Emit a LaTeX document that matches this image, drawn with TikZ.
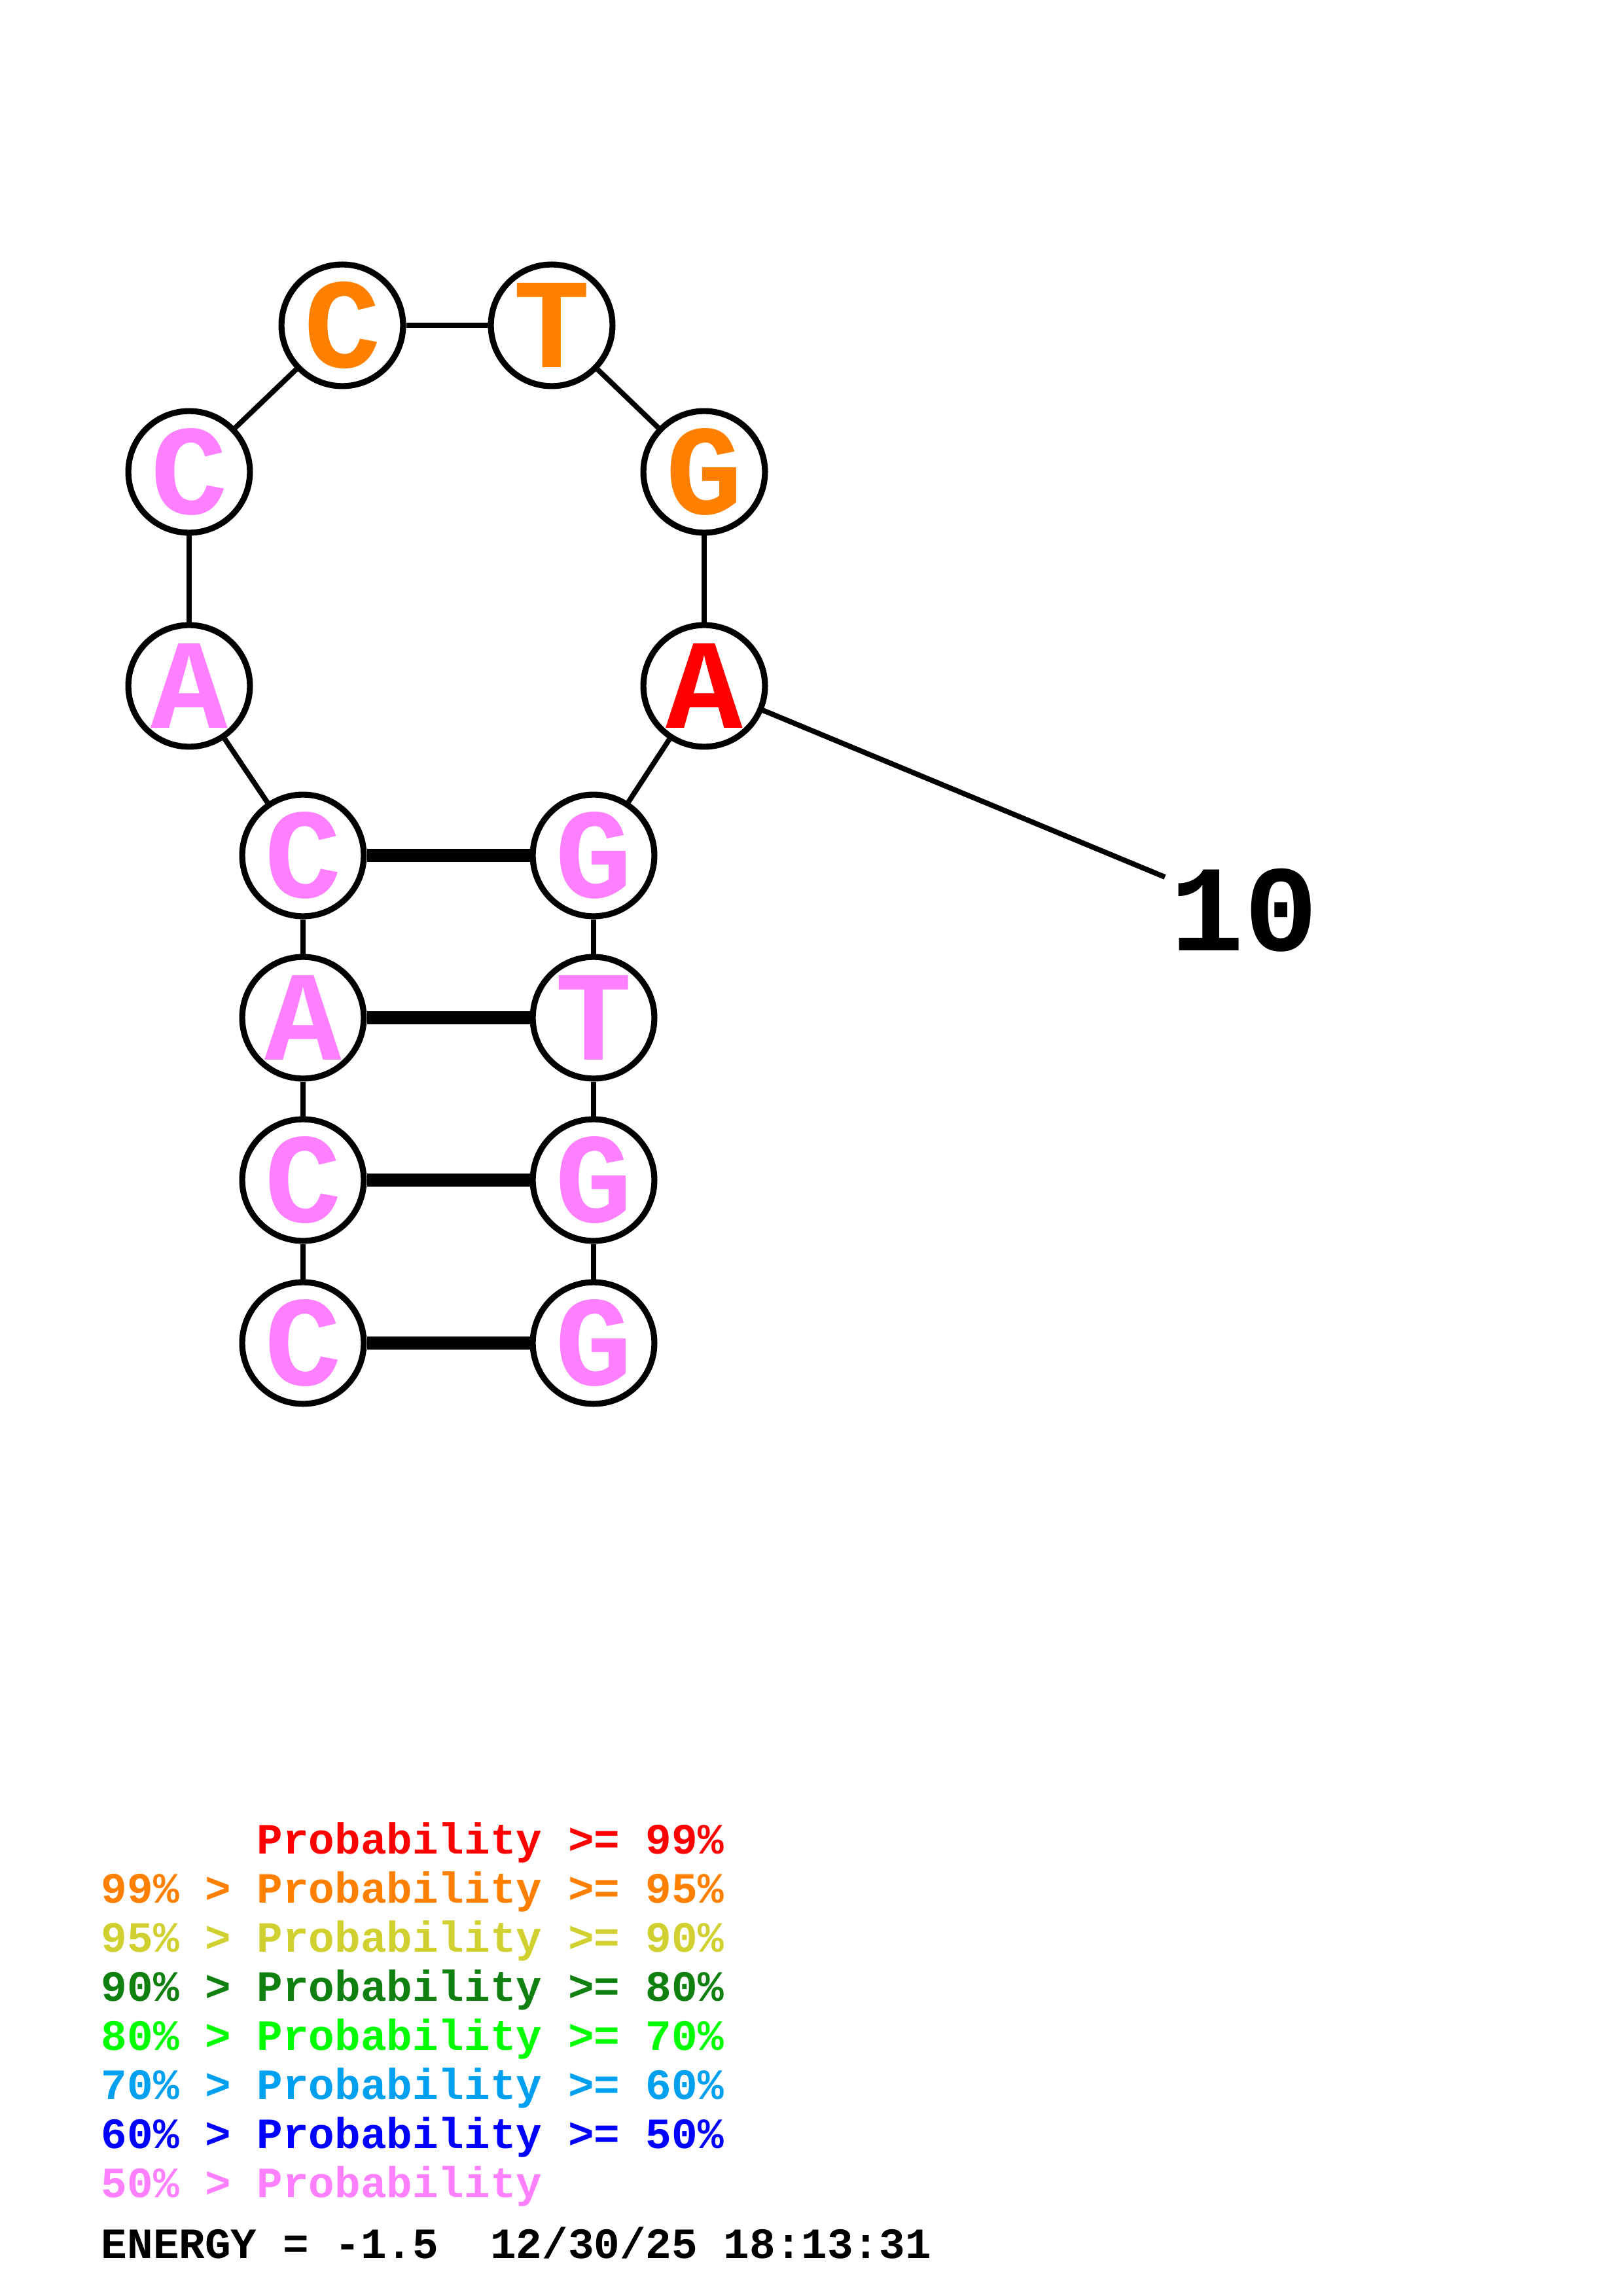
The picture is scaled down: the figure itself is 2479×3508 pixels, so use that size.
\documentclass[tikz,border=0pt]{standalone}
\usepackage{fontspec}
\setmonofont{Liberation Mono}
\definecolor{cpink}{RGB}{255,128,255}
\definecolor{corange}{RGB}{255,128,0}
\definecolor{cred}{RGB}{255,0,0}
\definecolor{cyellow}{RGB}{208,208,48}
\definecolor{cdgreen}{RGB}{16,128,16}
\definecolor{cgreen}{RGB}{0,255,0}
\definecolor{csky}{RGB}{0,160,240}
\definecolor{cblue}{RGB}{0,0,255}
\newcommand\nlow[1]{\raisebox{-2pt}{#1}}
\begin{document}
\begin{tikzpicture}[x=0.24pt,y=-0.24pt,
  nuc/.style={circle,draw=black,fill=white,line width=2.2pt,minimum size=44.6pt,inner sep=0pt,
     font=\ttfamily\bfseries\fontsize{47}{47}\selectfont},
  bb/.style={line width=1.9pt},
  bp/.style={line width=4.8pt},
  leg/.style={anchor=base west,inner sep=0pt,font=\ttfamily\bfseries\fontsize{15.85}{15.85}\selectfont}]
\useasboundingbox (0,0) rectangle (2479,3508);
% nucleotides
\node[nuc,text=cpink] (n1) at (463,2052) {\nlow{C}};
\node[nuc,text=cpink] (n2) at (463,1803) {\nlow{C}};
\node[nuc,text=cpink] (n3) at (463,1555) {\nlow{A}};
\node[nuc,text=cpink] (n4) at (463,1307) {\nlow{C}};
\node[nuc,text=cpink] (n5) at (289,1048) {\nlow{A}};
\node[nuc,text=cpink] (n6) at (289,721) {\nlow{C}};
\node[nuc,text=corange] (n7) at (523,497) {\nlow{C}};
\node[nuc,text=corange] (n8) at (843,497) {\nlow{T}};
\node[nuc,text=corange] (n9) at (1076,721) {\nlow{G}};
\node[nuc,text=cred] (n10) at (1076,1048) {\nlow{A}};
\node[nuc,text=cpink] (n11) at (907,1307) {\nlow{G}};
\node[nuc,text=cpink] (n12) at (907,1555) {\nlow{T}};
\node[nuc,text=cpink] (n13) at (907,1803) {\nlow{G}};
\node[nuc,text=cpink] (n14) at (907,2052) {\nlow{G}};
% backbone
\draw[bb] (n1) -- (n2);
\draw[bb] (n2) -- (n3);
\draw[bb] (n3) -- (n4);
\draw[bb] (n4) -- (n5);
\draw[bb] (n5) -- (n6);
\draw[bb] (n6) -- (n7);
\draw[bb] (n7) -- (n8);
\draw[bb] (n8) -- (n9);
\draw[bb] (n9) -- (n10);
\draw[bb] (n10) -- (n11);
\draw[bb] (n11) -- (n12);
\draw[bb] (n12) -- (n13);
\draw[bb] (n13) -- (n14);
% base pairs
\draw[bp] (n4) -- (n11);
\draw[bp] (n3) -- (n12);
\draw[bp] (n2) -- (n13);
\draw[bp] (n1) -- (n14);
% numbering
\coordinate (t10) at (1780,1340);
\draw[bb] (n10) -- (t10);
\node[anchor=base west,inner sep=0pt,font=\ttfamily\bfseries\fontsize{45}{45}\selectfont] (lab10) at (1788,1452) {10};
% legend
\node[leg,text=cred] (l1) at (154,2832) {\phantom{99\%~>~}Probability~>=~99\%};
\node[leg,text=corange] (l2) at (154,2907) {99\%~>~Probability~>=~95\%};
\node[leg,text=cyellow] (l3) at (154,2982) {95\%~>~Probability~>=~90\%};
\node[leg,text=cdgreen] (l4) at (154,3057) {90\%~>~Probability~>=~80\%};
\node[leg,text=cgreen] (l5) at (154,3132) {80\%~>~Probability~>=~70\%};
\node[leg,text=csky] (l6) at (154,3207) {70\%~>~Probability~>=~60\%};
\node[leg,text=cblue] (l7) at (154,3282) {60\%~>~Probability~>=~50\%};
\node[leg,text=cpink] (l8) at (154,3357) {50\%~>~Probability};
\node[leg,text=black] (en) at (154,3450) {ENERGY~=~-1.5~~12/30/25~18:13:31};
\end{tikzpicture}
\end{document}
